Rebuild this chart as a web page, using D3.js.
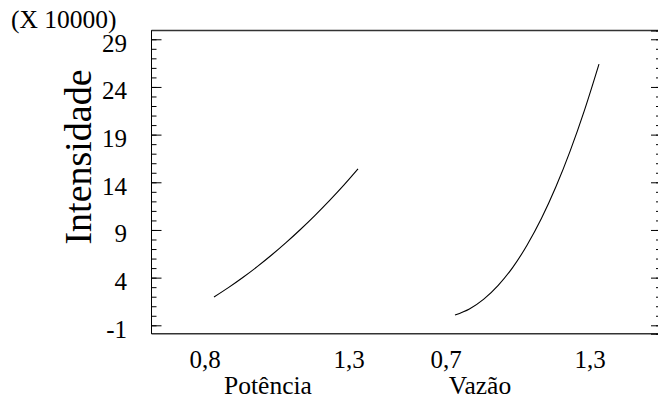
<!DOCTYPE html>
<html><head><meta charset="utf-8">
<script src="https://cdn.jsdelivr.net/npm/d3@7"></script>
<style>
html,body{margin:0;padding:0;background:#fff;}
svg{display:block;}
text{font-family:"Liberation Serif","Times New Roman",serif;fill:#000;}
</style></head>
<body>
<svg id="chart" width="658" height="403"></svg>
<script>
// ---- data ----
const factors = ["Potência", "Vazão"];
const potenciaX = [0.80, 0.85, 0.90, 0.95, 1.00, 1.05, 1.10, 1.15, 1.20, 1.25, 1.30];
const potenciaY = [1.97, 2.95, 4.01, 5.15, 6.37, 7.67, 9.05, 10.51, 12.05, 13.67, 15.4];
const vazaoX = [0.70, 0.76, 0.82, 0.88, 0.94, 1.00, 1.06, 1.12, 1.18, 1.24, 1.30];
const vazaoY = [0.08, 0.72, 1.75, 3.2, 5.05, 7.4, 10.2, 13.5, 17.3, 21.6, 26.4];
const potenciaTicks = ["0,8", "1,3"];
const vazaoTicks = ["0,7", "1,3"];
const yMajorTicks = [-1, 4, 9, 14, 19, 24, 29];
const yMinorTicks = d3.range(-1, 30, 1);
const yTitle = "Intensidade";
const yMultiplier = "(X 10000)";

// ---- layout ----
const svg = d3.select("#chart");
const frame = {left: 151.5, right: 661, top: 30.5, bottom: 333.7};
const y = d3.scaleLinear().domain([-1.88, 29.92]).range([frame.bottom, frame.top]);
const xP = d3.scaleLinear().domain([0.8, 1.3]).range([214, 358]);
const xV = d3.scaleLinear().domain([0.7, 1.3]).range([455, 599]);

// frame lines
svg.append("line").attr("x1", frame.left).attr("x2", frame.right).attr("y1", frame.top).attr("y2", frame.top)
  .attr("stroke", "#333").attr("stroke-width", 1.5);
svg.append("line").attr("x1", frame.left).attr("x2", frame.right).attr("y1", frame.bottom).attr("y2", frame.bottom)
  .attr("stroke", "#333").attr("stroke-width", 1.5);

// left axis (ticks inward)
const leftMinor = svg.append("g").attr("transform", `translate(${frame.left},0)`)
  .call(d3.axisRight(y).tickValues(yMinorTicks).tickSize(5).tickFormat(""));
const leftMajor = svg.append("g").attr("transform", `translate(${frame.left},0)`)
  .call(d3.axisRight(y).tickValues(yMajorTicks).tickSize(10).tickFormat(""));
[leftMinor, leftMajor].forEach(g => {
  g.select(".domain").attr("d", `M0,${frame.top}V${frame.bottom}`).attr("stroke", "#000");
  g.selectAll(".tick line").attr("stroke", "#000");
});
// y tick labels
svg.append("g").selectAll("text").data(yMajorTicks).join("text")
  .attr("x", 127).attr("y", d => y(d) + 12.5)
  .attr("text-anchor", "end").attr("font-size", 25)
  .text(d => d);

// right axis (ticks inward)
const rightMinor = svg.append("g").attr("transform", `translate(${frame.right},0)`)
  .call(d3.axisLeft(y).tickValues(yMinorTicks).tickSize(5).tickFormat(""));
const rightMajor = svg.append("g").attr("transform", `translate(${frame.right},0)`)
  .call(d3.axisLeft(y).tickValues(yMajorTicks).tickSize(10).tickFormat(""));
[rightMinor, rightMajor].forEach(g => {
  g.select(".domain").attr("stroke", "#000");
  g.selectAll(".tick line").attr("stroke", "#000");
});

// curves
const line = (xs) => d3.line().x((d) => xs(d[0])).y(d => y(d[1])).curve(d3.curveMonotoneX);
svg.append("path").datum(d3.zip(potenciaX, potenciaY)).attr("d", line(xP))
  .attr("fill", "none").attr("stroke", "#000").attr("stroke-width", 1.1);
svg.append("path").datum(d3.zip(vazaoX, vazaoY)).attr("d", line(xV))
  .attr("fill", "none").attr("stroke", "#000").attr("stroke-width", 1.1);

// x tick labels (at the factor low/high)
const xTickY = 368;
const pDom = xP.domain(), vDom = xV.domain();
svg.append("g").selectAll("text").data([[xP(pDom[0]), potenciaTicks[0]], [xP(pDom[1]), potenciaTicks[1]],
  [xV(vDom[0]), vazaoTicks[0]], [xV(vDom[1]), vazaoTicks[1]]]).join("text")
  .attr("x", d => d[0] - 9).attr("y", xTickY)
  .attr("text-anchor", "middle").attr("font-size", 25)
  .text(d => d[1]);

// factor names
svg.append("text").attr("x", 268).attr("y", 394).attr("text-anchor", "middle").attr("font-size", 25.5).text(factors[0]);
svg.append("text").attr("x", 480).attr("y", 394).attr("text-anchor", "middle").attr("font-size", 25.5).text(factors[1]);

// y title
svg.append("text").attr("transform", "translate(91,157) rotate(-90)")
  .attr("text-anchor", "middle").attr("font-size", 38).text(yTitle);
// multiplier
svg.append("text").attr("x", 11).attr("y", 28).attr("font-size", 25.5).text(yMultiplier);
</script>
</body></html>
